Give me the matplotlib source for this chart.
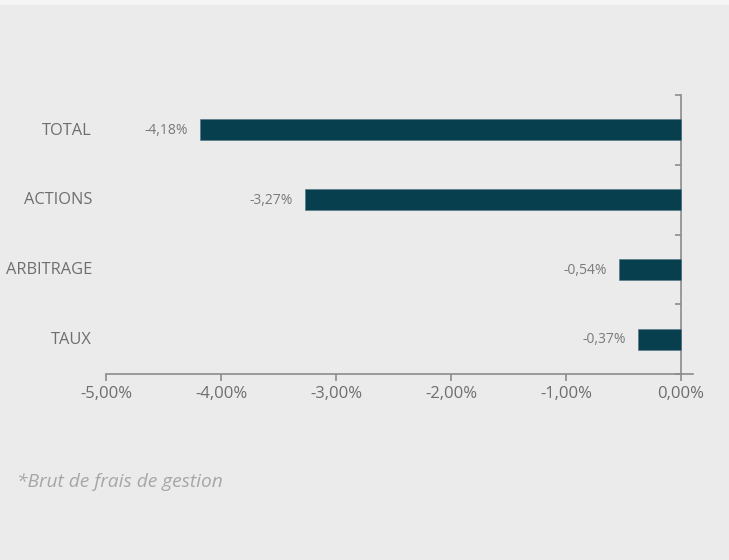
import matplotlib
matplotlib.use("Agg")
import matplotlib.pyplot as plt
from matplotlib.patches import Rectangle
from matplotlib.ticker import FixedLocator, NullFormatter
import matplotlib.transforms as mtransforms

categories = ["TOTAL", "ACTIONS", "ARBITRAGE", "TAUX"]
values = [-4.18, -3.27, -0.54, -0.37]
value_labels = ["-4,18%", "-3,27%", "-0,54%", "-0,37%"]
xticks = [-5, -4, -3, -2, -1, 0]
xtick_labels = ["-5,00%", "-4,00%", "-3,00%", "-2,00%", "-1,00%", "0,00%"]
footnote = "*Brut de frais de gestion"

plt.rcParams['font.family'] = ['Open Sans', 'DejaVu Sans']

W, H = 729, 560
fig = plt.figure(figsize=(W / 100, H / 100), dpi=100)
bg = "#EBEBEB"
fig.patch.set_facecolor(bg)
fig.patches.append(Rectangle((0, 1 - 5 / H), 1, 5 / H, transform=fig.transFigure,
                             facecolor="#F5F5F5", edgecolor="none"))

left, right, top, bottom = 106, 693, 95, 374
ax = fig.add_axes([left / W, 1 - bottom / H, (right - left) / W, (bottom - top) / H])
ax.set_facecolor(bg)

ypos = list(range(len(categories)))
bar_color = "#083F4F"
ax.barh(ypos, values, height=0.3, color=bar_color, edgecolor="#4E7480", linewidth=0.4, zorder=3)

ax.set_xlim(-5, 0.104)
ax.set_ylim(len(categories) - 0.5, -0.5)

for s in ["top", "right"]:
    ax.spines[s].set_visible(False)
ax.spines["left"].set_position(("data", 0))
ax.spines["left"].set_color("#8C8C8C")
ax.spines["bottom"].set_color("#8C8C8C")
ax.spines["left"].set_linewidth(1.2)
ax.spines["bottom"].set_linewidth(1.2)

ax.set_xticks(xticks)
ax.set_xticklabels(xtick_labels, color="#6E6E6E", fontsize=12)
ax.tick_params(axis="x", direction="out", length=5, width=1.2, color="#8C8C8C", pad=4)

bounds = [i - 0.5 for i in range(len(categories) + 1)]
ax.yaxis.set_major_locator(FixedLocator(bounds))
ax.yaxis.set_major_formatter(NullFormatter())
ax.tick_params(axis="y", direction="out", length=4, width=1.2, color="#8C8C8C")

trans = mtransforms.blended_transform_factory(ax.transAxes, ax.transData)
for y, cat in zip(ypos, categories):
    ax.text(-14 / (right - left), y + 0.01, cat, transform=trans, ha="right", va="center",
            color="#6E6E6E", fontsize=11.8)

offset = mtransforms.offset_copy(ax.transData, fig=fig, x=-0.12, y=0, units="inches")
for y, v, lab in zip(ypos, values, value_labels):
    ax.text(v, y + 0.01, lab, transform=offset, ha="right", va="center", color="#7A7A7A", fontsize=10)

fig.text(17 / W, 1 - 482 / H, footnote, ha="left", va="center", color="#A6A6A6",
         fontsize=13.8, style="italic")

fig.savefig("out.png", dpi=100, facecolor=bg)
